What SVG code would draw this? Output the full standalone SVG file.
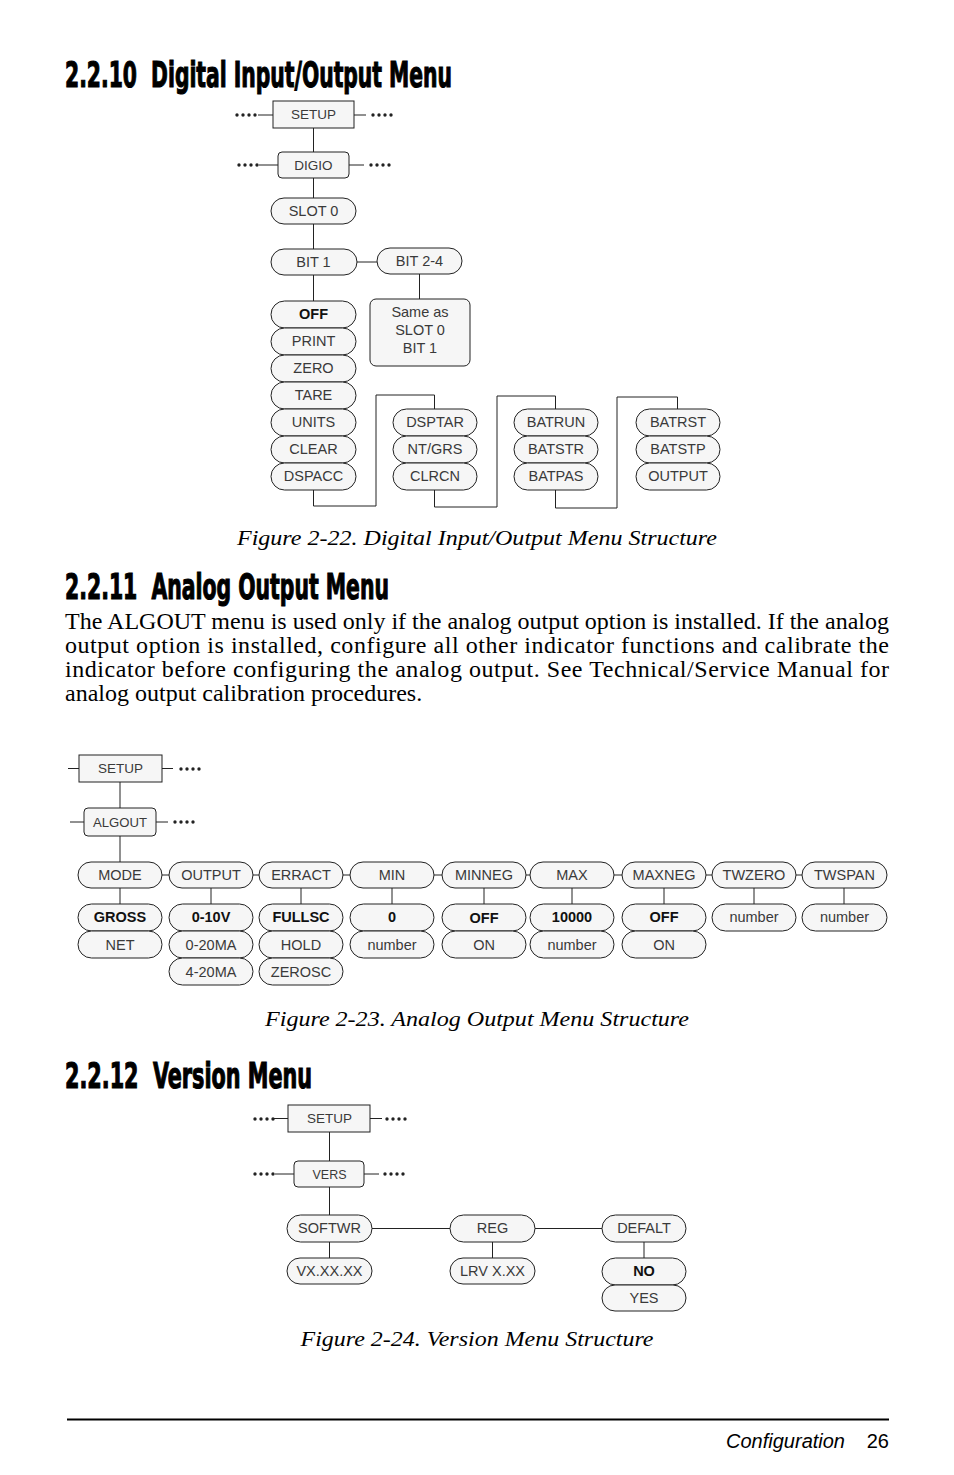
<svg xmlns="http://www.w3.org/2000/svg" width="954" height="1475" viewBox="0 0 954 1475">
<style>
.bg{fill:#fff}
.box{fill:#f6f6f6;stroke:#222;stroke-width:1}
.pill{fill:#f6f6f6;stroke:#222;stroke-width:1}
.t{font-family:"Liberation Sans",Arial,sans-serif;font-size:14.5px;fill:#3a3a3a;text-anchor:middle}
.ts{font-family:"Liberation Sans",Arial,sans-serif;font-size:13.5px;fill:#3a3a3a;text-anchor:middle}
.b{font-weight:bold;fill:#111}
.ln{stroke:#222;stroke-width:1;fill:none}
.dots{stroke:#222;stroke-width:3.4;stroke-linecap:round;stroke-dasharray:0 6;fill:none}
.h{font-family:"Liberation Sans Narrow","DejaVu Sans Condensed","Liberation Sans",sans-serif;font-weight:bold;font-size:36px;fill:#000;stroke:#000;stroke-width:1.1}
.cap{font-family:"Liberation Serif","Times New Roman",serif;font-style:italic;font-size:22px;fill:#000;text-anchor:middle}
.p{font-family:"Liberation Serif","Times New Roman",serif;font-size:24px;fill:#000}
.f{font-family:"Liberation Sans",Arial,sans-serif;font-size:20px;fill:#000}
</style>
<rect class="bg" x="0" y="0" width="954" height="1475"/>

<text class="h" x="65" y="87" textLength="387" lengthAdjust="spacingAndGlyphs" xml:space="preserve">2.2.10  Digital Input/Output Menu</text>

<g id="connectors-dio">
<line class="dots" x1="237" y1="115" x2="255.5" y2="115"/>
<line class="ln" x1="258" y1="115" x2="273" y2="115"/>
<line class="ln" x1="354" y1="115" x2="366" y2="115"/>
<line class="dots" x1="373" y1="115" x2="391.5" y2="115"/>
<line class="dots" x1="239" y1="165" x2="257.5" y2="165"/>
<line class="ln" x1="259" y1="165" x2="278" y2="165"/>
<line class="ln" x1="349" y1="165" x2="364" y2="165"/>
<line class="dots" x1="371" y1="165" x2="389.5" y2="165"/>
<line class="ln" x1="313.5" y1="128" x2="313.5" y2="152"/>
<line class="ln" x1="313.5" y1="178" x2="313.5" y2="198"/>
<line class="ln" x1="313.5" y1="224" x2="313.5" y2="249"/>
<line class="ln" x1="313.5" y1="275" x2="313.5" y2="301"/>
<line class="ln" x1="357" y1="262" x2="377" y2="262"/>
<line class="ln" x1="419.5" y1="274" x2="419.5" y2="299"/>
<path class="ln" d="M313.5 490 V506 H376 V395 H434.5 V409"/>
<path class="ln" d="M434.5 490 V507 H497 V396 H555.5 V409"/>
<path class="ln" d="M555.5 490 V508 H617 V397 H677.5 V409"/>
</g>

<g id="dio-setup"><rect class="box" x="273" y="101" width="81" height="27"/><text class="ts" x="313.5" y="119">SETUP</text></g>
<g id="dio-digio"><rect class="box" x="278" y="152" width="71" height="26" rx="4"/><text class="ts" x="313.5" y="170">DIGIO</text></g>
<g id="dio-slot0"><rect class="pill" x="271" y="198" width="85" height="26" rx="13"/><text class="t" x="313.5" y="216">SLOT 0</text></g>
<g id="dio-bit1"><rect class="pill" x="271" y="249" width="86" height="26" rx="13"/><text class="t" x="313.5" y="267">BIT 1</text></g>
<g id="dio-bit24"><rect class="pill" x="377" y="248" width="85" height="26" rx="13"/><text class="t" x="419.5" y="266">BIT 2-4</text></g>
<g id="dio-sameas"><rect class="box" x="370" y="299" width="100" height="67" rx="6"/><text class="t" x="420" y="317">Same as</text><text class="t" x="420" y="335">SLOT 0</text><text class="t" x="420" y="353">BIT 1</text></g>

<g id="dio-off"><rect class="pill" x="271" y="301" width="85" height="27" rx="13.5"/><text class="t b" x="313.5" y="319">OFF</text></g>
<g id="dio-print"><rect class="pill" x="271" y="328" width="85" height="27" rx="13.5"/><text class="t" x="313.5" y="346">PRINT</text></g>
<g id="dio-zero"><rect class="pill" x="271" y="355" width="85" height="27" rx="13.5"/><text class="t" x="313.5" y="373">ZERO</text></g>
<g id="dio-tare"><rect class="pill" x="271" y="382" width="85" height="27" rx="13.5"/><text class="t" x="313.5" y="400">TARE</text></g>
<g id="dio-units"><rect class="pill" x="271" y="409" width="85" height="27" rx="13.5"/><text class="t" x="313.5" y="427">UNITS</text></g>
<g id="dio-clear"><rect class="pill" x="271" y="436" width="85" height="27" rx="13.5"/><text class="t" x="313.5" y="454">CLEAR</text></g>
<g id="dio-dspacc"><rect class="pill" x="271" y="463" width="85" height="27" rx="13.5"/><text class="t" x="313.5" y="481">DSPACC</text></g>

<g id="dio-dsptar"><rect class="pill" x="393" y="409" width="84" height="27" rx="13.5"/><text class="t" x="435" y="427">DSPTAR</text></g>
<g id="dio-ntgrs"><rect class="pill" x="393" y="436" width="84" height="27" rx="13.5"/><text class="t" x="435" y="454">NT/GRS</text></g>
<g id="dio-clrcn"><rect class="pill" x="393" y="463" width="84" height="27" rx="13.5"/><text class="t" x="435" y="481">CLRCN</text></g>

<g id="dio-batrun"><rect class="pill" x="514" y="409" width="84" height="27" rx="13.5"/><text class="t" x="556" y="427">BATRUN</text></g>
<g id="dio-batstr"><rect class="pill" x="514" y="436" width="84" height="27" rx="13.5"/><text class="t" x="556" y="454">BATSTR</text></g>
<g id="dio-batpas"><rect class="pill" x="514" y="463" width="84" height="27" rx="13.5"/><text class="t" x="556" y="481">BATPAS</text></g>

<g id="dio-batrst"><rect class="pill" x="636" y="409" width="84" height="27" rx="13.5"/><text class="t" x="678" y="427">BATRST</text></g>
<g id="dio-batstp"><rect class="pill" x="636" y="436" width="84" height="27" rx="13.5"/><text class="t" x="678" y="454">BATSTP</text></g>
<g id="dio-output"><rect class="pill" x="636" y="463" width="84" height="27" rx="13.5"/><text class="t" x="678" y="481">OUTPUT</text></g>

<text class="cap" x="477" y="545" textLength="480" lengthAdjust="spacingAndGlyphs">Figure 2-22. Digital Input/Output Menu Structure</text>

<text class="h" x="65" y="599" textLength="324" lengthAdjust="spacingAndGlyphs" xml:space="preserve">2.2.11  Analog Output Menu</text>

<text class="p" x="65" y="629" textLength="824" lengthAdjust="spacing">The ALGOUT menu is used only if the analog output option is installed. If the analog</text>
<text class="p" x="65" y="653" textLength="824" lengthAdjust="spacing">output option is installed, configure all other indicator functions and calibrate the</text>
<text class="p" x="65" y="677" textLength="824" lengthAdjust="spacing">indicator before configuring the analog output. See Technical/Service Manual for</text>
<text class="p" x="65" y="701">analog output calibration procedures.</text>

<g id="connectors-ao">
<line class="ln" x1="68" y1="768.5" x2="79" y2="768.5"/>
<line class="ln" x1="162" y1="768.5" x2="173" y2="768.5"/>
<line class="dots" x1="181" y1="769" x2="199.5" y2="769"/>
<line class="ln" x1="70" y1="822" x2="84" y2="822"/>
<line class="ln" x1="156" y1="822" x2="168" y2="822"/>
<line class="dots" x1="175" y1="822" x2="193.5" y2="822"/>
<line class="ln" x1="120" y1="782" x2="120" y2="808"/>
<line class="ln" x1="120" y1="836" x2="120" y2="862"/>
<line class="ln" x1="162" y1="875" x2="169" y2="875"/>
<line class="ln" x1="253" y1="875" x2="259" y2="875"/>
<line class="ln" x1="343" y1="875" x2="350" y2="875"/>
<line class="ln" x1="434" y1="875" x2="442" y2="875"/>
<line class="ln" x1="526" y1="875" x2="530" y2="875"/>
<line class="ln" x1="614" y1="875" x2="622" y2="875"/>
<line class="ln" x1="706" y1="875" x2="712" y2="875"/>
<line class="ln" x1="796" y1="875" x2="802" y2="875"/>
<line class="ln" x1="120" y1="888" x2="120" y2="904"/>
<line class="ln" x1="211" y1="888" x2="211" y2="904"/>
<line class="ln" x1="301" y1="888" x2="301" y2="904"/>
<line class="ln" x1="392" y1="888" x2="392" y2="904"/>
<line class="ln" x1="484" y1="888" x2="484" y2="904"/>
<line class="ln" x1="572" y1="888" x2="572" y2="904"/>
<line class="ln" x1="664" y1="888" x2="664" y2="904"/>
<line class="ln" x1="754" y1="888" x2="754" y2="904"/>
<line class="ln" x1="844" y1="888" x2="844" y2="904"/>
</g>

<g id="ao-setup"><rect class="box" x="79" y="755" width="83" height="27"/><text class="ts" x="120.5" y="773">SETUP</text></g>
<g id="ao-algout"><rect class="box" x="84" y="808" width="72" height="28" rx="4"/><text class="ts" x="120" y="827" textLength="54" lengthAdjust="spacingAndGlyphs">ALGOUT</text></g>

<g id="ao-mode"><rect class="pill" x="78" y="862" width="84" height="26" rx="13"/><text class="t" x="120" y="880">MODE</text></g>
<g id="ao-output"><rect class="pill" x="169" y="862" width="84" height="26" rx="13"/><text class="t" x="211" y="880">OUTPUT</text></g>
<g id="ao-erract"><rect class="pill" x="259" y="862" width="84" height="26" rx="13"/><text class="t" x="301" y="880">ERRACT</text></g>
<g id="ao-min"><rect class="pill" x="350" y="862" width="84" height="26" rx="13"/><text class="t" x="392" y="880">MIN</text></g>
<g id="ao-minneg"><rect class="pill" x="442" y="862" width="84" height="26" rx="13"/><text class="t" x="484" y="880">MINNEG</text></g>
<g id="ao-max"><rect class="pill" x="530" y="862" width="84" height="26" rx="13"/><text class="t" x="572" y="880">MAX</text></g>
<g id="ao-maxneg"><rect class="pill" x="622" y="862" width="84" height="26" rx="13"/><text class="t" x="664" y="880">MAXNEG</text></g>
<g id="ao-twzero"><rect class="pill" x="712" y="862" width="84" height="26" rx="13"/><text class="t" x="754" y="880">TWZERO</text></g>
<g id="ao-twspan"><rect class="pill" x="802" y="862" width="85" height="26" rx="13"/><text class="t" x="844.5" y="880">TWSPAN</text></g>

<g id="ao-gross"><rect class="pill" x="78" y="904" width="84" height="27" rx="13.5"/><text class="t b" x="120" y="922">GROSS</text></g>
<g id="ao-net"><rect class="pill" x="78" y="931" width="84" height="27" rx="13.5"/><text class="t" x="120" y="950">NET</text></g>
<g id="ao-010v"><rect class="pill" x="169" y="904" width="84" height="27" rx="13.5"/><text class="t b" x="211" y="922">0-10V</text></g>
<g id="ao-020ma"><rect class="pill" x="169" y="931" width="84" height="27" rx="13.5"/><text class="t" x="211" y="950">0-20MA</text></g>
<g id="ao-420ma"><rect class="pill" x="169" y="958" width="84" height="27" rx="13.5"/><text class="t" x="211" y="977">4-20MA</text></g>
<g id="ao-fullsc"><rect class="pill" x="259" y="904" width="84" height="27" rx="13.5"/><text class="t b" x="301" y="922">FULLSC</text></g>
<g id="ao-hold"><rect class="pill" x="259" y="931" width="84" height="27" rx="13.5"/><text class="t" x="301" y="950">HOLD</text></g>
<g id="ao-zerosc"><rect class="pill" x="259" y="958" width="84" height="27" rx="13.5"/><text class="t" x="301" y="977">ZEROSC</text></g>
<g id="ao-min0"><rect class="pill" x="350" y="904" width="84" height="27" rx="13.5"/><text class="t b" x="392" y="922">0</text></g>
<g id="ao-minnum"><rect class="pill" x="350" y="931" width="84" height="27" rx="13.5"/><text class="t" x="392" y="950">number</text></g>
<g id="ao-minnegoff"><rect class="pill" x="442" y="904" width="84" height="27" rx="13.5"/><text class="t b" x="484" y="923">OFF</text></g>
<g id="ao-minnegon"><rect class="pill" x="442" y="931" width="84" height="27" rx="13.5"/><text class="t" x="484" y="950">ON</text></g>
<g id="ao-max10000"><rect class="pill" x="530" y="904" width="84" height="27" rx="13.5"/><text class="t b" x="572" y="922">10000</text></g>
<g id="ao-maxnum"><rect class="pill" x="530" y="931" width="84" height="27" rx="13.5"/><text class="t" x="572" y="950">number</text></g>
<g id="ao-maxnegoff"><rect class="pill" x="622" y="904" width="84" height="27" rx="13.5"/><text class="t b" x="664" y="922">OFF</text></g>
<g id="ao-maxnegon"><rect class="pill" x="622" y="931" width="84" height="27" rx="13.5"/><text class="t" x="664" y="950">ON</text></g>
<g id="ao-twzeronum"><rect class="pill" x="712" y="904" width="84" height="27" rx="13.5"/><text class="t" x="754" y="922">number</text></g>
<g id="ao-twspannum"><rect class="pill" x="802" y="904" width="85" height="27" rx="13.5"/><text class="t" x="844.5" y="922">number</text></g>

<text class="cap" x="477" y="1026" textLength="424" lengthAdjust="spacingAndGlyphs">Figure 2-23. Analog Output Menu Structure</text>

<text class="h" x="65" y="1088" textLength="247" lengthAdjust="spacingAndGlyphs" xml:space="preserve">2.2.12  Version Menu</text>

<g id="connectors-vers">
<line class="dots" x1="255" y1="1119" x2="273.5" y2="1119"/>
<line class="ln" x1="274" y1="1118.5" x2="288" y2="1118.5"/>
<line class="ln" x1="370" y1="1118.5" x2="382" y2="1118.5"/>
<line class="dots" x1="387" y1="1119" x2="405.5" y2="1119"/>
<line class="dots" x1="255" y1="1174" x2="273.5" y2="1174"/>
<line class="ln" x1="275" y1="1174" x2="294" y2="1174"/>
<line class="ln" x1="364" y1="1174" x2="379" y2="1174"/>
<line class="dots" x1="385" y1="1174" x2="403.5" y2="1174"/>
<line class="ln" x1="329.5" y1="1132" x2="329.5" y2="1161"/>
<line class="ln" x1="329.5" y1="1187" x2="329.5" y2="1215"/>
<line class="ln" x1="372" y1="1228.5" x2="450" y2="1228.5"/>
<line class="ln" x1="535" y1="1228.5" x2="602" y2="1228.5"/>
<line class="ln" x1="329.5" y1="1242" x2="329.5" y2="1258"/>
<line class="ln" x1="492.5" y1="1242" x2="492.5" y2="1258"/>
<line class="ln" x1="644" y1="1242" x2="644" y2="1258"/>
</g>

<g id="v-setup"><rect class="box" x="288" y="1105" width="82" height="27"/><text class="ts" x="329.5" y="1123">SETUP</text></g>
<g id="v-vers"><rect class="box" x="294" y="1161" width="70" height="26" rx="4"/><text class="ts" x="329.5" y="1179" textLength="34" lengthAdjust="spacingAndGlyphs">VERS</text></g>
<g id="v-softwr"><rect class="pill" x="287" y="1215" width="85" height="27" rx="13.5"/><text class="t" x="329.5" y="1233">SOFTWR</text></g>
<g id="v-reg"><rect class="pill" x="450" y="1215" width="85" height="27" rx="13.5"/><text class="t" x="492.5" y="1233">REG</text></g>
<g id="v-defalt"><rect class="pill" x="602" y="1215" width="84" height="27" rx="13.5"/><text class="t" x="644" y="1233">DEFALT</text></g>
<g id="v-vx"><rect class="pill" x="287" y="1258" width="85" height="26" rx="13"/><text class="t" x="329.5" y="1276">VX.XX.XX</text></g>
<g id="v-lrv"><rect class="pill" x="450" y="1258" width="85" height="26" rx="13"/><text class="t" x="492.5" y="1276">LRV X.XX</text></g>
<g id="v-no"><rect class="pill" x="602" y="1258" width="84" height="27" rx="13.5"/><text class="t b" x="644" y="1276">NO</text></g>
<g id="v-yes"><rect class="pill" x="602" y="1285" width="84" height="26" rx="13"/><text class="t" x="644" y="1303">YES</text></g>

<text class="cap" x="477" y="1346" textLength="353" lengthAdjust="spacingAndGlyphs">Figure 2-24. Version Menu Structure</text>

<line x1="67" y1="1419.5" x2="889" y2="1419.5" stroke="#000" stroke-width="2"/>
<text class="f" x="845" y="1448" text-anchor="end" font-style="italic">Configuration</text>
<text class="f" x="889" y="1448" text-anchor="end">26</text>
</svg>
